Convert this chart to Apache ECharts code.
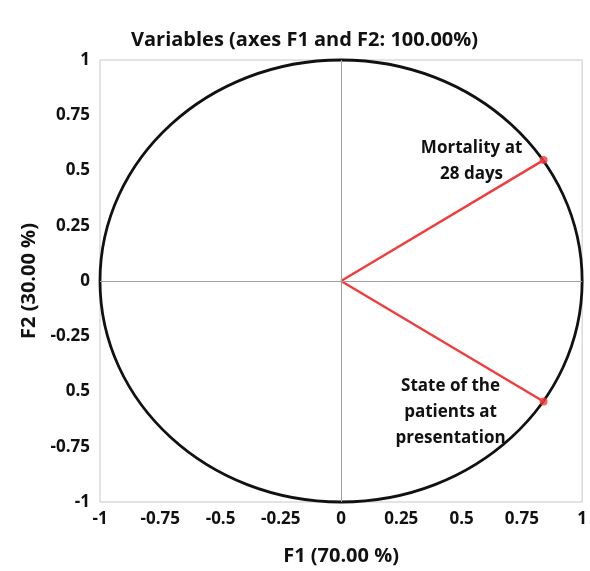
<!DOCTYPE html>
<html>
<head>
<meta charset="utf-8">
<script src="https://cdn.jsdelivr.net/npm/echarts@6/dist/echarts.min.js"></script>
<style>
  html, body { margin: 0; padding: 0; background: #fff; }
  #chart { width: 590px; height: 571px; }
</style>
</head>
<body>
<div id="chart"></div>
<script>
// tick labels (the original shows "0.5" at -0.5 on the F2 axis)
var xTicks = ['-1', '-0.75', '-0.5', '-0.25', '0', '0.25', '0.5', '0.75', '1'];
var yTicks = ['-1', '-0.75', '0.5', '-0.25', '0', '0.25', '0.5', '0.75', '1'];

// variables: name, F1, F2
var varNames = ['Mortality at\n28 days', 'State of the\npatients at\npresentation'];
var varF1 = [0.84, 0.84];
var varF2 = [0.547, -0.545];

// correlation circle: centre x, centre y, radius
var circleData = [[0, 0, 1]];

var FONT = '"Open Sans", "Noto Sans", sans-serif';

function tickLabel(list) {
  return function (v) {
    var i = Math.round((v + 1) / 0.25);
    return list[i] !== undefined ? list[i] : '';
  };
}

var series = [];

// circle
series.push({
  type: 'custom',
  data: circleData,
  silent: true,
  z: 3,
  renderItem: function (params, api) {
    var c = api.coord([api.value(0), api.value(1)]);
    var s = api.size([api.value(2), api.value(2)]);
    return {
      type: 'ellipse',
      shape: { cx: c[0], cy: c[1], rx: s[0], ry: s[1] },
      style: { fill: 'none', stroke: '#111', lineWidth: 2.8 }
    };
  }
});

// vectors
for (var i = 0; i < varNames.length; i++) {
  series.push({
    type: 'line',
    z: 4,
    data: [[0, 0], [varF1[i], varF2[i]]],
    lineStyle: { color: '#f03c3c', width: 2.4 },
    symbol: 'none',
    silent: true
  });
}

// end points with labels
var labelBase = {
  show: true,
  formatter: '{b}',
  align: 'center',
  verticalAlign: 'middle',
  fontFamily: FONT,
  fontWeight: 'bold',
  fontSize: 17,
  lineHeight: 26,
  color: '#111',
  opacity: 1,
  textBorderWidth: 0
};
series.push({
  type: 'scatter',
  z: 5,
  symbolSize: 8,
  silent: true,
  itemStyle: { color: '#f03c3c' },
  emphasis: { disabled: true },
  data: varNames.map(function (n, i) {
    return {
      name: n,
      value: [varF1[i], varF2[i]],
      label: Object.assign({}, labelBase, {
        position: i === 0 ? [-68, 5] : [-89, 15]
      })
    };
  }),
  label: labelBase
});

// zero lines
series.push({
  type: 'line',
  data: [],
  markLine: {
    silent: true,
    symbol: 'none',
    label: { show: false },
    lineStyle: { color: '#a0a0a0', width: 1, type: 'solid' },
    data: [{ xAxis: 0 }, { yAxis: 0 }]
  }
});

var chart = echarts.init(document.getElementById('chart'));
chart.setOption({
  animation: false,
  backgroundColor: '#fff',
  title: {
    text: 'Variables (axes F1 and F2: 100.00%)',
    left: 126,
    top: 25,
    textStyle: { fontFamily: FONT, fontWeight: 'bold', fontSize: 20, color: '#111' }
  },
  grid: {
    left: 100, right: 7, top: 60, bottom: 67,
    show: true, borderColor: '#c8c8c8', borderWidth: 1
  },
  xAxis: {
    type: 'value', min: -1, max: 1, interval: 0.25,
    name: 'F1 (70.00 %)',
    nameLocation: 'middle',
    nameGap: 44,
    nameTextStyle: { fontFamily: FONT, fontWeight: 'bold', fontSize: 20, color: '#111' },
    axisLine: { show: false, onZero: false },
    axisTick: { show: false },
    splitLine: { show: false },
    axisLabel: {
      formatter: tickLabel(xTicks),
      fontFamily: FONT, fontWeight: 'bold', fontSize: 17, color: '#111', margin: 9
    }
  },
  yAxis: {
    type: 'value', min: -1, max: 1, interval: 0.25,
    name: 'F2 (30.00 %)',
    nameLocation: 'middle',
    nameGap: 60,
    nameTextStyle: { fontFamily: FONT, fontWeight: 'bold', fontSize: 20, color: '#111' },
    axisLine: { show: false, onZero: false },
    axisTick: { show: false },
    splitLine: { show: false },
    axisLabel: {
      formatter: tickLabel(yTicks),
      fontFamily: FONT, fontWeight: 'bold', fontSize: 17, color: '#111', margin: 10
    }
  },
  series: series
});
</script>
</body>
</html>
